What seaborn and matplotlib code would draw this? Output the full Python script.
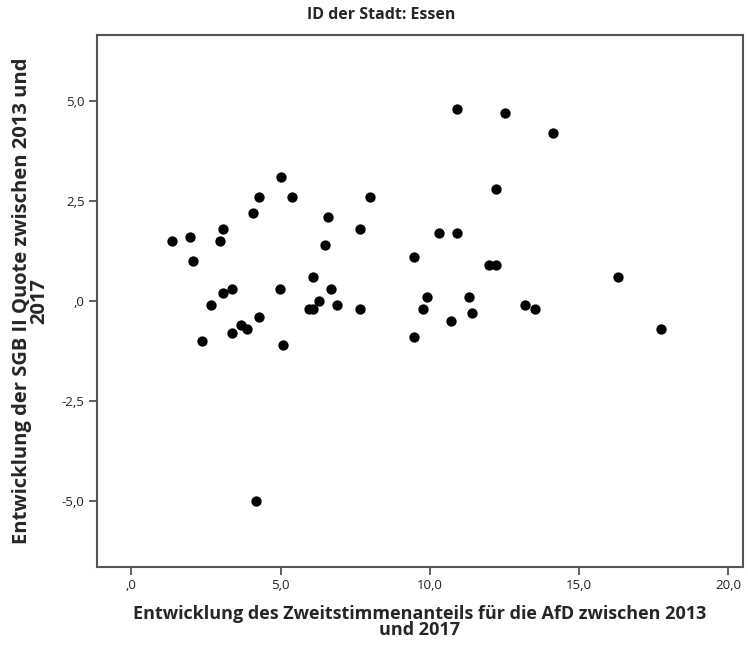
import matplotlib
matplotlib.use("Agg")
import matplotlib.pyplot as plt
import seaborn as sns
import pandas as pd
from matplotlib.ticker import FuncFormatter

# Entwicklung AfD-Zweitstimmenanteil (x) und SGB II Quote (y), Essen
afd_change = [1.37, 1.97, 2.06, 2.36, 2.68, 2.98, 3.08, 3.07, 3.38, 3.37,
              3.68, 3.88, 4.08, 4.27, 4.27, 4.19, 5.00, 4.99, 5.09, 5.39,
              5.97, 6.10, 6.09, 6.30, 6.48, 6.59, 6.68, 6.90, 7.68, 7.68,
              8.00, 10.90, 12.52, 14.12, 12.22, 10.31, 10.90, 9.49, 11.99, 12.22,
              16.32, 9.91, 11.31, 9.79, 11.41, 13.21, 13.52, 10.70, 9.49, 17.74]
sgb_change = [1.5, 1.6, 1.0, -1.0, -0.1, 1.5, 1.8, 0.2, 0.3, -0.8,
              -0.6, -0.7, 2.2, 2.6, -0.4, -5.0, 3.1, 0.3, -1.1, 2.6,
              -0.2, -0.2, 0.6, 0.0, 1.4, 2.1, 0.3, -0.1, 1.8, -0.2,
              2.6, 4.8, 4.7, 4.2, 2.8, 1.7, 1.7, 1.1, 0.9, 0.9,
              0.6, 0.1, 0.1, -0.2, -0.3, -0.1, -0.2, -0.5, -0.9, -0.7]
x_ticks = [0, 5, 10, 15, 20]
y_ticks = [-5, -2.5, 0, 2.5, 5]

df = pd.DataFrame({"afd": afd_change, "sgb": sgb_change})

sns.set_style("white")
plt.rcParams['font.family'] = ['Open Sans', 'DejaVu Sans']

fig = plt.figure(figsize=(7.48, 6.46), dpi=100)
ax = fig.add_axes([0.1297, 0.1223, 0.8636, 0.8235])

sns.scatterplot(data=df, x="afd", y="sgb", ax=ax, color="black",
                s=55, linewidth=0, legend=False)

ax.set_xlim(-1.15, 20.5)
ax.set_ylim(-6.65, 6.65)
ax.set_xticks(x_ticks)
ax.set_yticks(y_ticks)


def spss_fmt(v, pos):
    s = f"{v:.1f}".replace(".", ",")
    if s.startswith("0,"):
        s = s[1:]
    if s == "-0,0":
        s = ",0"
    return s


ax.xaxis.set_major_formatter(FuncFormatter(spss_fmt))
ax.yaxis.set_major_formatter(FuncFormatter(spss_fmt))
ax.tick_params(axis="both", direction="out", length=6, width=1.2,
               color="#444444", labelsize=9.5, labelcolor="#222222",
               bottom=True, left=True, pad=3)

for sp in ax.spines.values():
    sp.set_color("#555555")
    sp.set_linewidth(1.5)

ax.set_xlabel("Entwicklung des Zweitstimmenanteils für die AfD zwischen 2013\nund 2017",
              fontsize=13, fontweight="bold", linespacing=0.85, labelpad=9)
ax.set_ylabel("Entwicklung der SGB II Quote zwischen 2013 und\n2017",
              fontsize=14.5, fontweight="bold", linespacing=0.8, labelpad=9)
# SPSS setzt den Titel mittig über die ganze Grafik
fig.text(0.509, 0.977, "ID der Stadt: Essen", fontsize=11.5, fontweight="bold",
         ha="center", va="center")

fig.savefig("out.png", dpi=100)
